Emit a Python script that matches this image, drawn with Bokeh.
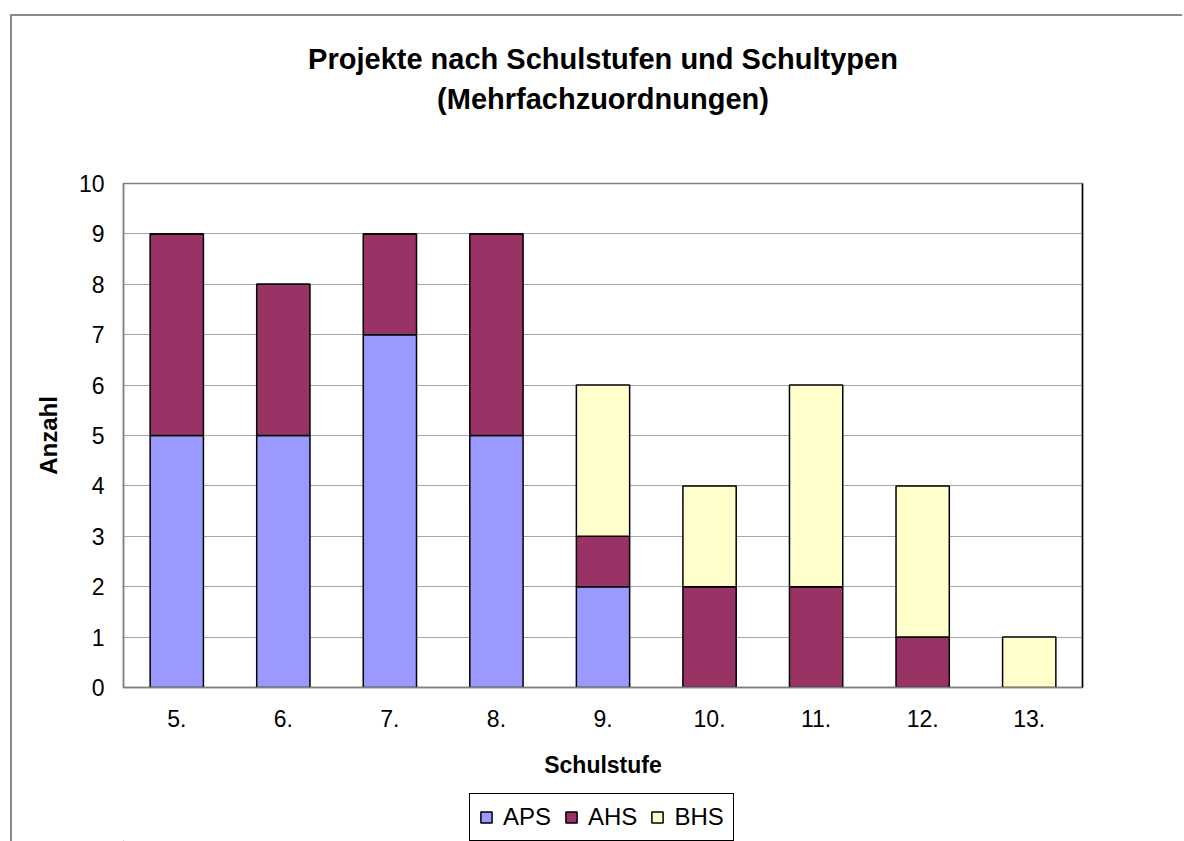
from bokeh.plotting import figure
from bokeh.layouts import column
from bokeh.models import FactorRange, Range1d, FixedTicker, LinearAxis, Legend, LegendItem, Title
from bokeh.embed import file_html
from bokeh.resources import INLINE

categories = ["5.", "6.", "7.", "8.", "9.", "10.", "11.", "12.", "13."]
series_names = ["APS", "AHS", "BHS"]
aps = [5, 5, 7, 5, 2, 0, 0, 0, 0]
ahs = [4, 3, 2, 4, 1, 2, 2, 1, 0]
bhs = [0, 0, 0, 0, 3, 2, 4, 3, 1]
colors = ["#9999FF", "#993366", "#FFFFCC"]
y_ticks = list(range(0, 11))
title_lines = ["Projekte nach Schulstufen und Schultypen", "(Mehrfachzuordnungen)"]

FONT = "Liberation Sans"

p = figure(
    x_range=FactorRange(*categories),
    y_range=Range1d(0, 10),
    frame_width=959, frame_height=504,
    output_backend="svg", toolbar_location=None,
    min_border_left=111, min_border_right=100,
    min_border_top=167, min_border_bottom=100,
)

# title lines (outermost = p.title); panels nearest the frame are added first
p.title.text = title_lines[0]
p.title.align = "center"
p.title.text_font = FONT
p.title.text_font_size = "29px"
p.title.text_font_style = "bold"
p.title.text_color = "black"
p.title.standoff = 11

spacer = Title(text=" ", text_font_size="1px", standoff=66)
p.add_layout(spacer, "above")
t2 = Title(text=title_lines[1], align="center", text_font=FONT, text_font_size="29px",
           text_font_style="bold", text_color="black", standoff=0)
p.add_layout(t2, "above")

data = dict(cat=categories, APS=aps, AHS=ahs, BHS=bhs)
renderers = p.vbar_stack(series_names, x="cat", width=0.5, source=data,
                         fill_color=colors, line_color="black", line_width=1.5)

p.outline_line_color = "#808080"
p.outline_line_width = 1.5
p.background_fill_color = "white"
p.border_fill_color = "white"

p.xgrid.grid_line_color = None
p.ygrid.grid_line_color = "#a6a6a6"
p.ygrid.grid_line_width = 1
p.ygrid.ticker = FixedTicker(ticks=y_ticks)

xa = p.xaxis[0]
xa.axis_label = "Schulstufe"
xa.axis_label_text_font = FONT
xa.axis_label_text_font_size = "23px"
xa.axis_label_text_font_style = "bold"
xa.axis_label_text_color = "black"
xa.axis_label_standoff = 22
xa.major_label_text_font = FONT
xa.major_label_text_font_size = "23px"
xa.major_label_text_color = "black"
xa.major_label_standoff = 22
xa.major_tick_out = 0
xa.major_tick_in = 0
xa.major_tick_line_color = None
xa.minor_tick_line_color = None
xa.axis_line_color = "#808080"
xa.axis_line_width = 1.5

ya = p.yaxis[0]
ya.ticker = FixedTicker(ticks=y_ticks)
ya.axis_label = "Anzahl"
ya.axis_label_text_font = FONT
ya.axis_label_text_font_size = "24px"
ya.axis_label_text_font_style = "bold"
ya.axis_label_text_color = "black"
ya.axis_label_standoff = 14
ya.major_label_text_font = FONT
ya.major_label_text_font_size = "23px"
ya.major_label_text_color = "black"
ya.major_label_standoff = 13
ya.major_tick_line_color = None
ya.minor_tick_line_color = None
ya.axis_line_color = "#808080"
ya.axis_line_width = 1.5

ra = LinearAxis(ticker=FixedTicker(ticks=[]), axis_line_color="black", axis_line_width=1.5,
                major_tick_line_color=None, minor_tick_line_color=None,
                major_label_text_font_size="0px")
p.add_layout(ra, "right")

# legend strip below the chart (its frame is aligned with the chart's frame)
lf = figure(width=1170, height=54, output_backend="svg", toolbar_location=None,
            x_range=Range1d(0, 1), y_range=Range1d(0, 1),
            x_axis_location=None, y_axis_location=None, min_border=0)
lf.outline_line_color = None
lf.grid.visible = False
lf.background_fill_color = "white"
lf.border_fill_color = "white"
# legend proxies: one zero-size bar each, placed outside the visible range
leg_renderers = [lf.vbar(x=[-1], top=[0], bottom=[0], width=0.0, fill_color=c,
                         line_color="black", line_width=1.5)
                 for c in colors]
legend = Legend(
    items=[LegendItem(label=n, renderers=[r]) for n, r in zip(series_names, leg_renderers)],
    orientation="horizontal", location=(346, 0),
    label_text_font=FONT, label_text_font_size="24px", label_text_color="black",
    glyph_width=14, glyph_height=14, label_standoff=10, spacing=13, padding=9,
    border_line_color="black", border_line_width=1, border_line_alpha=1,
    margin=0,
)
lf.add_layout(legend, "center")

layout = column(p, lf, spacing=0)
layout.margin = (14, 0, 0, 10)
layout.styles = {"border-top": "2px solid #8a8a8a", "border-left": "2px solid #8a8a8a"}

open("out.html", "w").write(file_html(layout, INLINE))
